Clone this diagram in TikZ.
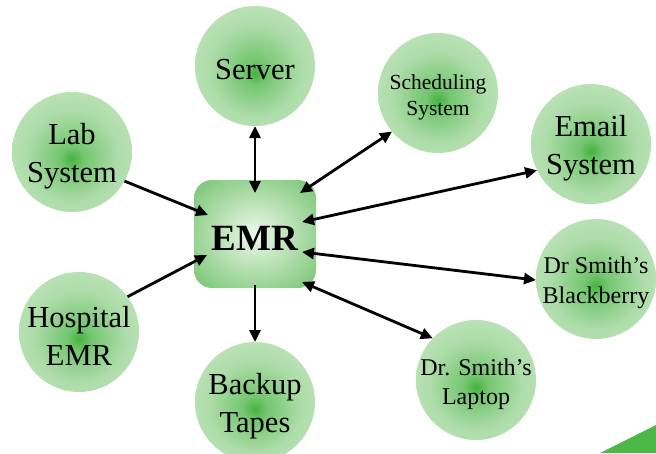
\documentclass[tikz,border=0pt]{standalone}
\usepackage{fontspec}
\setmainfont{Liberation Serif}
\usetikzlibrary{arrows.meta,calc}
\definecolor{bubA}{HTML}{45B340}
\definecolor{bubB}{HTML}{74C670}
\definecolor{bubC}{HTML}{ADDCA9}
\definecolor{bubD}{HTML}{C7E8C3}
\definecolor{boxA}{HTML}{EEF8EC}
\definecolor{boxB}{HTML}{B6E0B2}
\definecolor{boxC}{HTML}{6DC069}
\definecolor{boxD}{HTML}{58B554}
\definecolor{cornergreen}{HTML}{4DB848}
\pgfdeclareradialshading{bubbleshade}{\pgfpoint{0bp}{-3bp}}{color(0bp)=(bubA); color(5bp)=(bubB); color(19bp)=(bubC); color(36bp)=(bubD); color(50bp)=(bubD)}
\pgfdeclareradialshading{emrshade}{\pgfpoint{0bp}{0bp}}{color(0bp)=(boxA); color(16bp)=(boxB); color(38bp)=(boxC); color(50bp)=(boxD); color(75bp)=(boxD)}
\tikzset{
  bubble/.style={circle, minimum size=120pt, inner sep=0pt, outer sep=0pt, draw=none, shade, shading=bubbleshade},
  bigtxt/.style={align=center, text=black, inner sep=0pt, yshift=-4pt, font=\fontsize{30.5}{38}\selectfont},
  midtxt/.style={align=center, text=black, inner sep=0pt, yshift=-4pt, font=\fontsize{24}{29.5}\selectfont},
  smltxt/.style={align=center, text=black, inner sep=0pt, yshift=-4pt, font=\fontsize{21.5}{26}\selectfont},
  emrbox/.style={rectangle, rounded corners=18pt, minimum width=122pt, minimum height=108pt, inner sep=0pt, outer sep=0pt, draw=none, shade, shading=emrshade},
  conn/.style={line width=2.8pt, draw=black},
  >={Triangle[length=12pt,width=11pt]}
}
\begin{document}
\begin{tikzpicture}[x=1pt,y=-1pt]
\useasboundingbox (0,0) rectangle (656,453);
\fill[cornergreen] (600,453) -- (656,425) -- (656,453) -- cycle;
\node[bubble, label={[bigtxt]center:Server}] (server) at (255,66) {};
\node[bubble, label={[smltxt]center:Scheduling\\System}] (sched) at (438,93) {};
\node[bubble, label={[bigtxt]center:Email\\System}] (email) at (591,144) {};
\node[bubble, label={[midtxt]center:Dr Smith’s\\Blackberry}] (bb) at (596,279) {};
\node[bubble, label={[midtxt]center:Dr. Smith’s\\Laptop}] (laptop) at (476,380) {};
\node[bubble, label={[bigtxt]center:Backup\\Tapes}] (backup) at (255,402) {};
\node[bubble, label={[bigtxt]center:Hospital\\EMR}] (hospital) at (79,332) {};
\node[bubble, label={[bigtxt]center:Lab\\System}] (lab) at (72,152) {};
\node[emrbox, label={[yshift=-4pt, inner sep=0pt, text=black, font=\fontsize{37}{40}\selectfont\bfseries]center:EMR}] (emr) at (255,234) {};
\draw[conn,<->] (server.south) -- ([yshift=-13pt]emr.north);
\draw[conn,<->] ([xshift=-16pt,yshift=-13pt]emr.north east) -- (sched.220);
\draw[conn,<->] ([xshift=-14pt,yshift=12pt]emr.east) -- (email.206);
\draw[conn,<->] ([xshift=-14pt,yshift=-18pt]emr.east) -- (bb.181);
\draw[conn,<->] ([xshift=-14pt,yshift=6pt]emr.south east) -- (laptop.136);
\draw[conn,->] ([yshift=3pt]emr.south) -- (backup.north);
\draw[conn,->] (lab.331) -- ([xshift=14pt,yshift=19pt]emr.west);
\draw[conn,->] (hospital.36) -- ([xshift=13pt,yshift=-21pt]emr.west);
\end{tikzpicture}
\end{document}
